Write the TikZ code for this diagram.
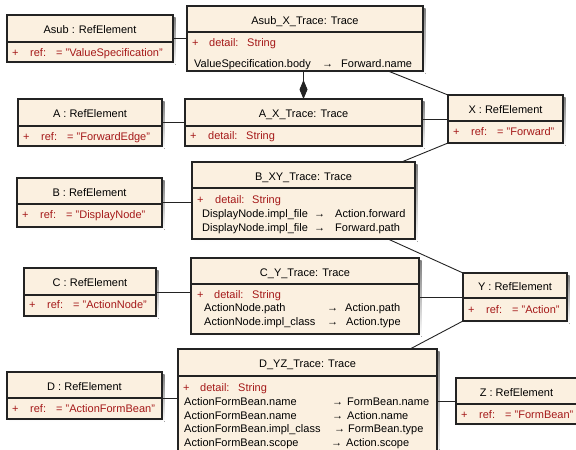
\documentclass[tikz,border=0pt]{standalone}
\usepackage{fontspec}
\setmainfont{Liberation Sans}
\usetikzlibrary{arrows.meta,calc}

\definecolor{boxfill}{RGB}{251,240,224}
\definecolor{attrred}{RGB}{165,25,25}
\definecolor{linec}{RGB}{35,35,35}
\definecolor{shade}{RGB}{170,170,170}

\tikzset{
  umlrect/.style={draw=linec, line width=1.1pt, fill=boxfill, inner sep=0pt, outer sep=0pt},
  ttl/.style={inner sep=0pt, anchor=base, font=\fontsize{11}{13}\selectfont},
  txt/.style={inner sep=0pt, anchor=base west, font=\fontsize{11}{13}\selectfont},
  attr/.style={txt, text=attrred},
  link/.style={draw=linec, line width=0.9pt},
}

% box with drop shadow, title compartment and divider
% #1 name, #2 x1, #3 y1, #4 x2, #5 y2, #6 divider y, #7 title
\newcommand\umlbox[7]{%
  \fill[shade] ({#2+2.5},{#3+2.5}) rectangle ({#4+2.5},{#5+2.5});
  \node[umlrect, anchor=north west, minimum width={(#4)-(#2)}, minimum height={(#5)-(#3)}] (#1) at (#2,#3) {};
  \draw[linec, line width=1.1pt] (#2,#6) -- (#4,#6);
  \node[ttl] (#1-title) at ({(#2+#4)/2},{(#3+#6)/2+5}) {#7};
}

% "+ ref: = value" row of a RefElement
\newcommand\refattr[4]{%
  \node[attr] (#1-plus) at ({#2+5},{#3+4}) {+};
  \node[attr] (#1-key) at ({#2+23},{#3+4}) {ref:};
  \node[attr] (#1-val) at ({#2+49},{#3+4}) {= "#4"};
}

% "+ detail: String" row of a Trace
\newcommand\detailrow[5]{%
  \node[attr] (#1-p) at (#3,{#2+4}) {+};
  \node[attr] (#1-d) at (#4,{#2+4}) {detail:};
  \node[attr] (#1-s) at (#5,{#2+4}) {String};
}

% "source -> target" row of a Trace
\newcommand\maprow[7]{%
  \node[txt] (#1-l) at (#3,{#2+4}) {#4};
  \node[txt] (#1-a) at (#5,{#2+4}) {→};
  \node[txt] (#1-r) at (#6,{#2+4}) {#7};
}

\begin{document}
\begin{tikzpicture}[x=1pt,y=-1pt]
\useasboundingbox (0,0) rectangle (576,450);

% reference elements
\umlbox{Asub}{7}{15}{173}{62}{42}{Asub : RefElement}
\refattr{Asub}{7}{52}{ValueSpecification}
\umlbox{A}{18}{99}{162}{146}{126}{A : RefElement}
\refattr{A}{18}{136}{ForwardEdge}
\umlbox{X}{448}{95}{563}{143}{121}{X : RefElement}
\refattr{X}{448}{131}{Forward}
\umlbox{B}{17}{178}{162}{227}{204}{B : RefElement}
\refattr{B}{17}{214}{DisplayNode}
\umlbox{C}{24}{268}{156}{316}{295}{C : RefElement}
\refattr{C}{24}{304}{ActionNode}
\umlbox{Y}{463}{273}{567}{321}{298}{Y : RefElement}
\refattr{Y}{463}{309}{Action}
\umlbox{D}{7}{372}{162}{419}{398}{D : RefElement}
\refattr{D}{7}{408}{ActionFormBean}
\umlbox{Z}{456}{378}{577}{424}{404}{Z : RefElement}
\refattr{Z}{456}{414}{FormBean}

% traces
\umlbox{AsubX}{187}{6}{423}{71}{32}{Asub\_X\_Trace: Trace}
\detailrow{AsubX-r0}{42.5}{192}{209}{247}
\maprow{AsubX-r1}{63}{194}{ValueSpecification.body}{322}{341}{Forward.name}

\umlbox{AX}{185}{99}{422}{146}{126}{A\_X\_Trace: Trace}
\detailrow{AX-r0}{135}{190}{208}{246}

\umlbox{BXY}{192}{162}{415}{239}{188}{B\_XY\_Trace: Trace}
\detailrow{BXY-r0}{199}{197}{215}{252}
\maprow{BXY-r1}{213}{202}{DisplayNode.impl\_file}{314}{335}{Action.forward}
\maprow{BXY-r2}{227}{202}{DisplayNode.impl\_file}{314}{335}{Forward.path}

\umlbox{CY}{191}{258}{419}{334}{284}{C\_Y\_Trace: Trace}
\detailrow{CY-r0}{294}{197}{214}{252}
\maprow{CY-r1}{307}{204}{ActionNode.path}{327}{345}{Action.path}
\maprow{CY-r2}{321}{204}{ActionNode.impl\_class}{327}{346}{Action.type}

\umlbox{DYZ}{178}{349}{437}{462}{376}{D\_YZ\_Trace: Trace}
\detailrow{DYZ-r0}{387}{183}{200}{238}
\maprow{DYZ-r1}{401}{184}{ActionFormBean.name}{332}{347}{FormBean.name}
\maprow{DYZ-r2}{415}{184}{ActionFormBean.name}{332}{347}{Action.name}
\maprow{DYZ-r3}{428}{184}{ActionFormBean.impl\_class}{334}{348}{FormBean.type}
\maprow{DYZ-r4}{442}{184}{ActionFormBean.scope}{331}{346}{Action.scope}

% links
\draw[link] (Asub.east) -- (Asub.east -| AsubX.west);
\draw[link] (A.east) -- (A.east -| AX.west);
\draw[link] (AX.east |- X.west) -- (X.west);
\draw[link] ($(AsubX.south west)!0.852!(AsubX.south east)$) -- (X.north west);
\draw[link] (X.south west) -- ($(BXY.north west)!0.94!(BXY.north east)$);
\draw[link] (B.east) -- (B.east -| BXY.west);
\draw[link] ($(BXY.south west)!0.879!(BXY.south east)$) -- (Y.north west);
\draw[link] (C.east) -- (C.east -| CY.west);
\draw[link] (CY.east |- Y.west) -- (Y.west);
\draw[link] (Y.south west) -- ($(DYZ.north west)!0.896!(DYZ.north east)$);
\draw[link] ([yshift=-2.5pt]D.east) -- ([yshift=-2.5pt]D.east -| DYZ.west);
\draw[link] (DYZ.east |- Z.west) -- (Z.west);
% composition
\draw[link, -{Diamond[length=19pt,width=8pt]}] (AX.north |- AsubX.south) -- (AX.north);
\end{tikzpicture}
\end{document}
